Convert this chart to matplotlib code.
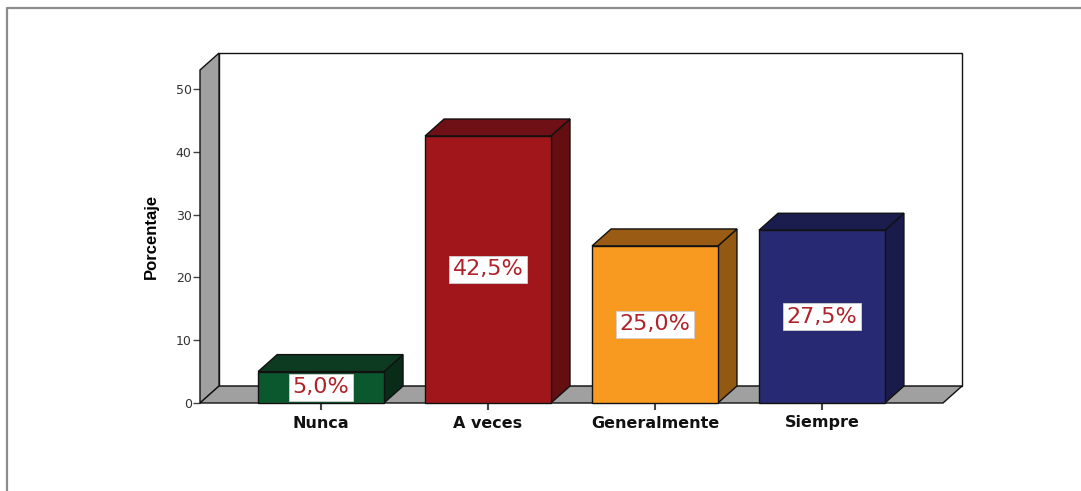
import numpy as np
import matplotlib.pyplot as plt
from matplotlib.patches import Polygon, Rectangle
from matplotlib.lines import Line2D

# data
categories = ['Nunca', 'A veces', 'Generalmente', 'Siempre']
percentages = [5.0, 42.5, 25.0, 27.5]
value_labels = ['5,0%', '42,5%', '25,0%', '27,5%']
y_ticks = [0, 10, 20, 30, 40, 50]

# colours per bar: front, top, side
front_colors = ['#0b582e', '#a1161a', '#f99a20', '#272a72']
top_colors = ['#0d3b22', '#6e1015', '#9a5c14', '#1c1d4f']
side_colors = ['#082c18', '#640e12', '#935812', '#1a1b4a']

WALL_GRAY = '#a0a0a0'
LABEL_RED = '#b0232a'
BAR_WIDTH = 0.754
X_PAD = 0.725          # space between axis ends and outer bars' centres
WALL_TOP = 53.0
DX, DY = 0.114, 2.7    # 3d depth offset in data units

fig = plt.figure(figsize=(10.81, 4.91), dpi=100)
fig.patch.set_facecolor('white')
ax = fig.add_axes([200 / 1081, 88 / 491, 743 / 1081, 333 / 491])

x = np.arange(len(categories))
xmin, xmax = x[0] - X_PAD, x[-1] + X_PAD
ax.set_xlim(xmin, xmax)
ax.set_ylim(0, WALL_TOP)
for s in ax.spines.values():
    s.set_visible(False)
ax.patch.set_visible(False)

edge = dict(edgecolor='#111111', linewidth=1.0, clip_on=False)

# back wall
ax.add_patch(Rectangle((xmin + DX, DY), xmax - xmin, WALL_TOP, facecolor='white', zorder=1, **edge))
# left wall
ax.add_patch(Polygon([(xmin, 0), (xmin, WALL_TOP), (xmin + DX, WALL_TOP + DY), (xmin + DX, DY)],
                     closed=True, facecolor=WALL_GRAY, zorder=2, **edge))
# floor
ax.add_patch(Polygon([(xmin, 0), (xmax, 0), (xmax + DX, DY), (xmin + DX, DY)],
                     closed=True, facecolor=WALL_GRAY, zorder=2, **edge))

# bars
for i, (xc, v) in enumerate(zip(x, percentages)):
    l, r = xc - BAR_WIDTH / 2, xc + BAR_WIDTH / 2
    ax.add_patch(Polygon([(r, 0), (r, v), (r + DX, v + DY), (r + DX, DY)],
                         closed=True, facecolor=side_colors[i], zorder=3, **edge))
    ax.add_patch(Polygon([(l, v), (r, v), (r + DX, v + DY), (l + DX, v + DY)],
                         closed=True, facecolor=top_colors[i], zorder=3, **edge))
    ax.add_patch(Rectangle((l, 0), BAR_WIDTH, v, facecolor=front_colors[i], zorder=4, **edge))
    ax.text(xc, v / 2, value_labels[i], ha='center', va='center', fontsize=16,
            family='DejaVu Sans', color=LABEL_RED, zorder=5,
            bbox=dict(boxstyle='square,pad=0.15', facecolor='white', edgecolor='#d0d0d0', linewidth=0.6))

# axes ticks
ax.set_yticks(y_ticks)
ax.set_yticklabels([str(t) for t in y_ticks], fontsize=9, family='DejaVu Sans', color='#333333')
ax.tick_params(axis='y', length=5, width=1.0, color='#444444', pad=1)
ax.set_xticks(x)
ax.set_xticklabels(categories, fontsize=11.5, fontweight='bold', family='DejaVu Sans', color='#111111')
ax.tick_params(axis='x', length=5, width=1.5, color='#444444', pad=4)
ax.set_ylabel('Porcentaje', fontsize=12, fontweight='bold',
              family=['Liberation Sans Narrow', 'Liberation Sans', 'DejaVu Sans'], labelpad=12)

# outer frame (left and top edges visible)
fig.add_artist(Line2D([7 / 1081, 7 / 1081, 1.0], [0.0, 1 - 8 / 491, 1 - 8 / 491],
                      transform=fig.transFigure, color='#8c8c8c', linewidth=1.6))

fig.savefig('out.png', dpi=100)
